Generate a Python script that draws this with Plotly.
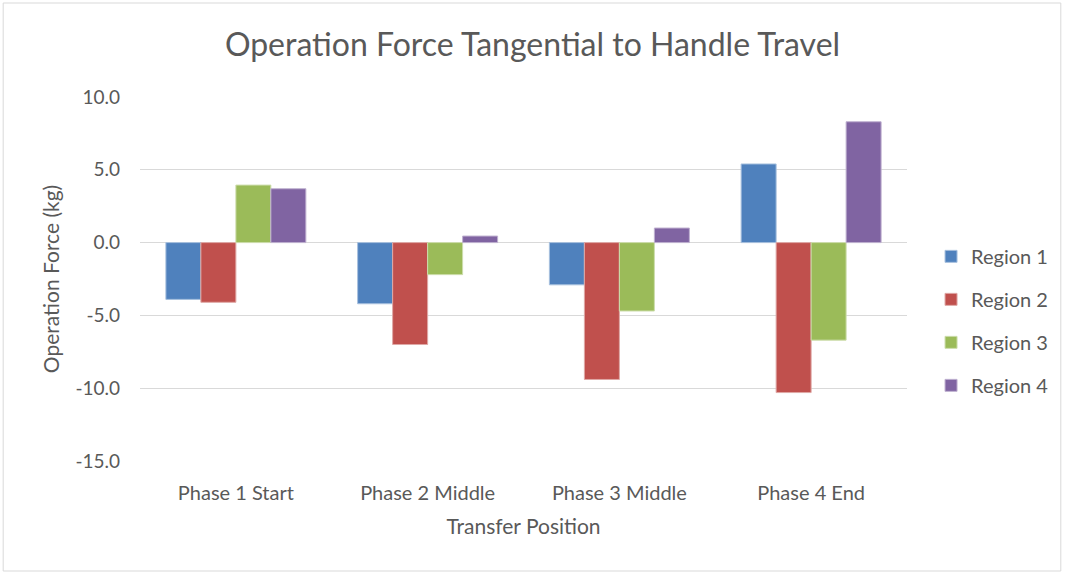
import plotly.graph_objects as go

categories = ["Phase 1 Start", "Phase 2 Middle", "Phase 3 Middle", "Phase 4 End"]
region1 = [-3.9, -4.2, -2.9, 5.4]
region2 = [-4.1, -7.0, -9.4, -10.3]
region3 = [3.95, -2.2, -4.7, -6.7]
region4 = [3.7, 0.45, 1.0, 8.3]
series_names = ["Region 1", "Region 2", "Region 3", "Region 4"]
y_tick_vals = [10, 5, 0, -5, -10, -15]
y_tick_text = ["10.0", "5.0", "0.0", "-5.0", "-10.0", "-15.0"]
colors = ["#4F81BD", "#C0504D", "#9BBB59", "#8064A2"]
edge_colors = ["#a7c0de", "#dfa8a6", "#cdddac", "#bfb1d0"]

fig = go.Figure()
for name, vals, c, ec in zip(series_names, [region1, region2, region3, region4], colors, edge_colors):
    fig.add_trace(go.Bar(
        x=categories, y=vals, name=name, legendgroup=name,
        marker=dict(color=c, line=dict(color=ec, width=1)),
    ))

font_family = "Lato, Open Sans, sans-serif"
fig.update_layout(
    width=1065, height=573,
    paper_bgcolor="white", plot_bgcolor="white",
    barmode="group", bargap=0.27, bargroupgap=0,
    margin=dict(l=140, r=157, t=97, b=112),
    font=dict(family=font_family, color="#595959", size=19),
    title=dict(text="Operation Force Tangential to Handle Travel",
               x=0.5, xanchor="center", y=1 - 45 / 573, yanchor="middle",
               font=dict(size=32, color="#595959", family=font_family)),
    xaxis=dict(title=dict(text="Transfer Position", font=dict(size=21), standoff=16),
               tickfont=dict(size=20), showline=False, ticks="", ticklabelstandoff=18),
    yaxis=dict(title=dict(text="Operation Force (kg)", font=dict(size=21), standoff=10),
               range=[-15, 10], tickvals=y_tick_vals, ticktext=y_tick_text,
               tickfont=dict(size=19), gridcolor="#d9d9d9", gridwidth=1,
               zeroline=True, zerolinecolor="#d9d9d9", zerolinewidth=1,
               showline=False, ticks="", ticklabelstandoff=19),
    legend=dict(x=1.03, xanchor="left", y=0.385, yanchor="middle",
                font=dict(size=20, color="#595959"),
                tracegroupgap=14, traceorder="grouped", itemwidth=30),
    showlegend=True,
)
fig.add_shape(type="rect", xref="paper", yref="paper",
              x0=(3 - 140) / 768, x1=(1062 - 140) / 768,
              y0=(461 - 571) / 364, y1=(461 - 3) / 364,
              line=dict(color="#d9d9d9", width=1), fillcolor="rgba(0,0,0,0)", layer="below")

fig.write_html("out.html", config={"displayModeBar": False},
               post_script="document.body.style.margin='0';")
